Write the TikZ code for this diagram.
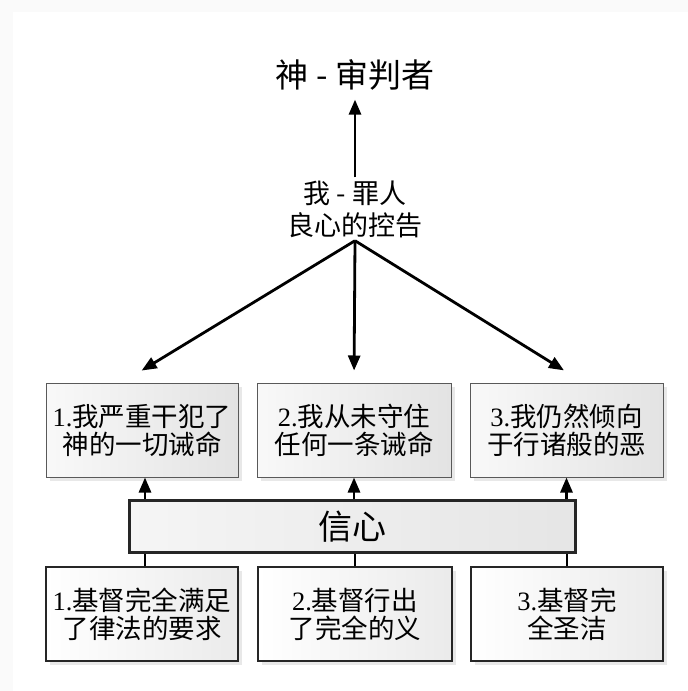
\documentclass[tikz,border=0pt]{standalone}
\usepackage{fontspec}
\setmainfont{Liberation Serif}
\newfontfamily\cjk{Noto Sans CJK SC}
\usetikzlibrary{arrows.meta,shadows}
\begin{document}
\begin{tikzpicture}[x=1pt,y=-1pt,
  arr/.style={line width=2.8pt,-{Triangle[length=15pt,width=12pt]}},
  conn/.style={line width=2.8pt},
  boxtext/.style={inner sep=0pt, align=center, font=\cjk\fontsize{26.5}{28}\selectfont},
  topbox/.style={boxtext, draw=gray!70!black, line width=1pt, left color=gray!5, right color=gray!22,
    minimum height=94pt, drop shadow={opacity=0.18, shadow xshift=4pt, shadow yshift=-4pt}},
  botbox/.style={boxtext, draw=black!85, line width=1.3pt, left color=white, right color=gray!16,
    minimum height=94pt, drop shadow={opacity=0.18, shadow xshift=4pt, shadow yshift=-4pt}},
  faithbox/.style={draw=black!85, line width=3pt, left color=gray!8, right color=gray!20,
    minimum width=446pt, minimum height=52pt, inner sep=0pt, font=\cjk\fontsize{34}{36}\selectfont},
  title/.style={inner sep=0pt, align=center}
]
\useasboundingbox (0,0) rectangle (688,691);
% faint frame
\fill[gray!4] (0,0) rectangle (688,691);
\fill[white] (13,12) rectangle (688,691);

\node[title, font=\cjk\fontsize{33}{36}\selectfont, minimum height=30pt] (god) at (355,75) {神 - 审判者};
\node[title, font=\cjk\fontsize{27}{32}\selectfont, minimum height=63pt] (me) at (355,209) {我 - 罪人\\良心的控告};

\node[topbox, minimum width=192pt] (t1) at (142,430) {{\rmfamily 1.}我严重干犯了\\神的一切诫命};
\node[topbox, minimum width=194pt] (t2) at (354,430) {{\rmfamily 2.}我从未守住\\任何一条诫命};
\node[topbox, minimum width=193pt] (t3) at (566.5,430) {{\rmfamily 3.}我仍然倾向\\于行诸般的恶};

\node[faithbox] (faith) at (352.5,526.5) {信心};

\node[botbox, minimum width=192pt] (b1) at (142,614) {{\rmfamily 1.}基督完全满足\\了律法的要求};
\node[botbox, minimum width=194pt] (b2) at (355,614) {{\rmfamily 2.}基督行出\\了完全的义};
\node[botbox, minimum width=192pt] (b3) at (567,614) {{\rmfamily 3.}基督完\\全圣洁};

% arrows
\draw[arr, shorten >=9pt] (me.north) -- (god.south);
\draw[arr, shorten >=23pt] (me.south) -- ([xshift=-20pt]t1.north);
\draw[arr, shorten >=12pt] (me.south) -- (t2.north);
\draw[arr, shorten >=23pt] (me.south) -- ([xshift=17pt]t3.north);

\draw[arr] ([xshift=3pt]faith.north -| t1.south) -- ([xshift=3pt]t1.south);
\draw[arr] (faith.north -| t2.south) -- (t2.south);
\draw[arr] (faith.north -| t3.south) -- (t3.south);

\draw[conn] ([xshift=3pt]b1.north) -- ([xshift=3pt]faith.south -| b1.north);
\draw[conn] (b2.north) -- (faith.south -| b2.north);
\draw[conn] (b3.north) -- (faith.south -| b3.north);
\end{tikzpicture}
\end{document}
